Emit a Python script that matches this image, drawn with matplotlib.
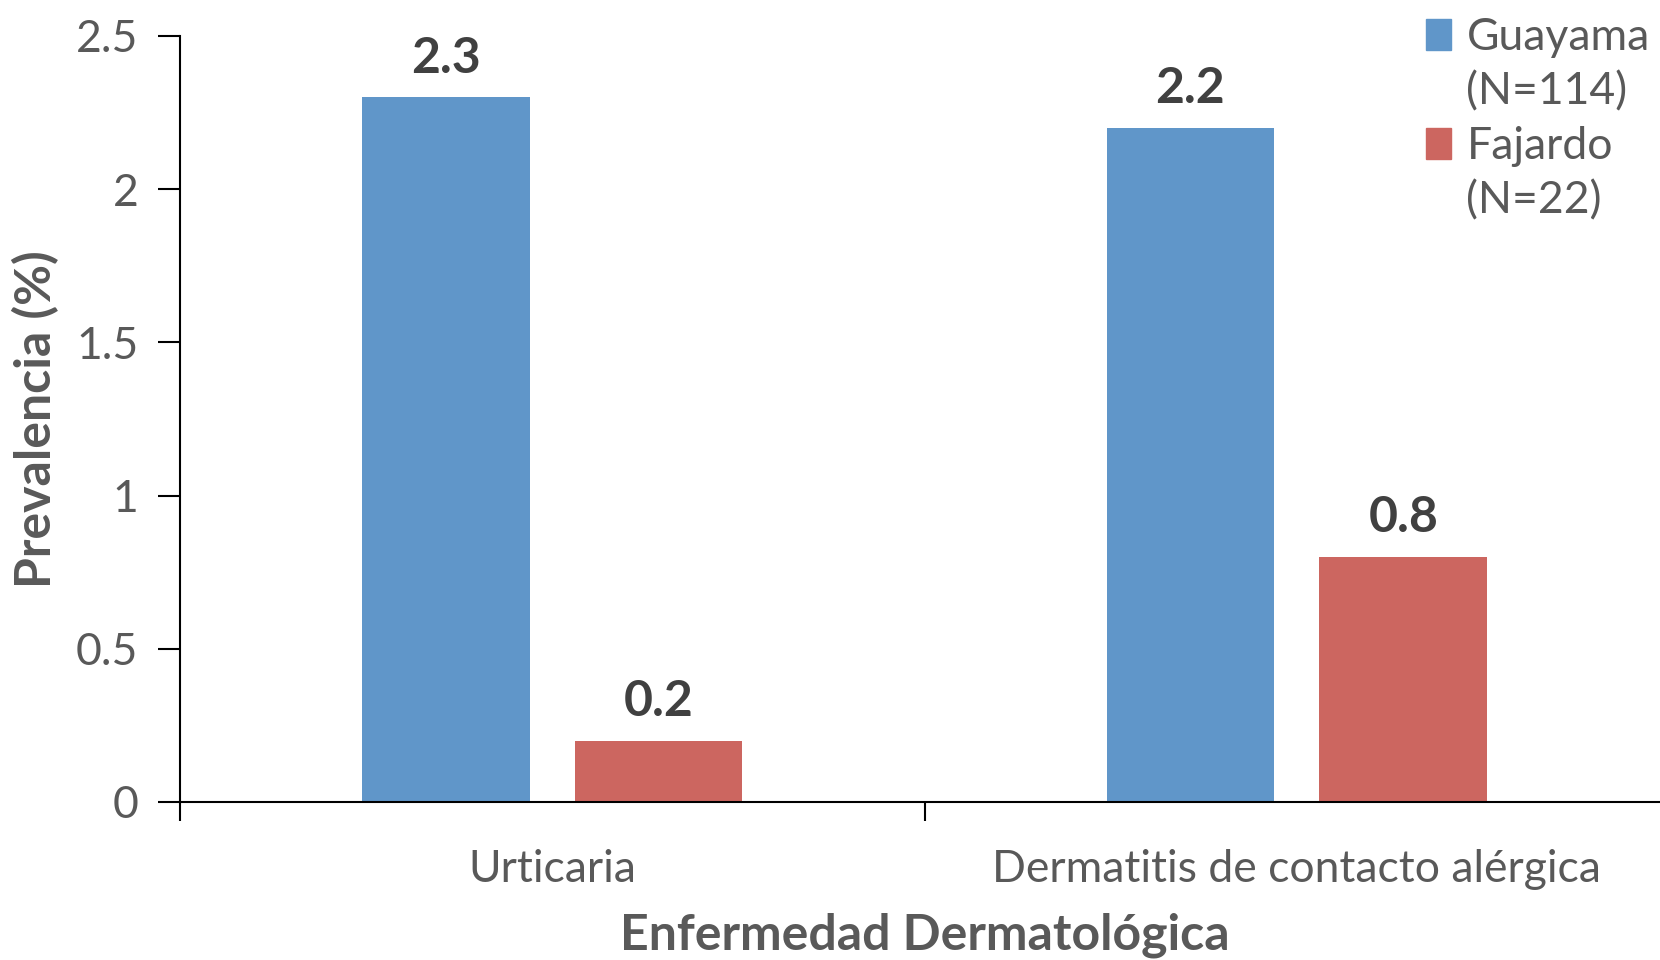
import numpy as np
import matplotlib
matplotlib.use("Agg")
from matplotlib import pyplot as plt
from matplotlib.patches import Patch

categories = ["Urticaria", "Dermatitis de contacto alérgica"]
series_names = ["Guayama", "Fajardo"]
series_n = ["(N=114)", "(N=22)"]
guayama = [2.3, 2.2]
fajardo = [0.2, 0.8]
y_ticks = [0, 0.5, 1, 1.5, 2, 2.5]
y_tick_labels = ["0", "0.5", "1", "1.5", "2", "2.5"]

plt.rcParams['font.family'] = ['Lato', 'DejaVu Sans']
text_gray = '#595959'
blue = '#6096C9'
red = '#CC6660'

fig = plt.figure(figsize=(16.6, 9.6), dpi=100)
ax = fig.add_axes([180 / 1660, 1 - 802 / 960, 1489 / 1660, (802 - 36) / 960])

x = np.arange(len(categories))
width = 0.225
offset = 0.143
bars1 = ax.bar(x - offset, guayama, width, color=blue)
bars2 = ax.bar(x + offset, fajardo, width, color=red)

for bars in (bars1, bars2):
    ax.bar_label(bars, labels=[f"{v.get_height():.1f}" for v in bars], padding=12,
                 fontsize=36, fontweight='bold', color='#404040')

ax.set_xlim(-0.5, 1.5)
ax.set_ylim(0, 2.5)
ax.set_yticks(y_ticks)
ax.set_yticklabels(y_tick_labels)
ax.set_xticks([-0.5, 0.5, 1.5])
ax.set_xticklabels([])
ax.set_xticks(x, minor=True)
ax.set_xticklabels(categories, minor=True)
ax.tick_params(axis='x', which='minor', length=0, pad=34, labelsize=32, labelcolor=text_gray)
ax.tick_params(axis='x', which='major', direction='out', length=14, width=1.5)
ax.tick_params(axis='y', labelsize=32, labelcolor=text_gray, length=16, width=1.5, pad=14)

for side in ('top', 'right'):
    ax.spines[side].set_visible(False)
ax.spines['left'].set_linewidth(1.5)
ax.spines['bottom'].set_linewidth(1.5)

ax.set_ylabel('Prevalencia (%)', fontsize=36, fontweight='bold', color=text_gray, labelpad=12)
ax.set_xlabel('Enfermedad Dermatológica', fontsize=36, fontweight='bold', color=text_gray, labelpad=16)

# legend with the N on its own line, square at the first line
handles = [Patch(color=blue), Patch(alpha=0), Patch(color=red), Patch(alpha=0)]
labels = [series_names[0], series_n[0], series_names[1], series_n[1]]
leg = fig.legend(handles, labels, loc='upper left', bbox_to_anchor=(1422 / 1660, 0.987),
                 frameon=False, fontsize=32, handlelength=0.55, handleheight=0.7,
                 handletextpad=0.35, labelspacing=0.3, borderaxespad=0, borderpad=0.1)
for t in leg.get_texts():
    t.set_color(text_gray)

fig.savefig('out.png', dpi=100)
